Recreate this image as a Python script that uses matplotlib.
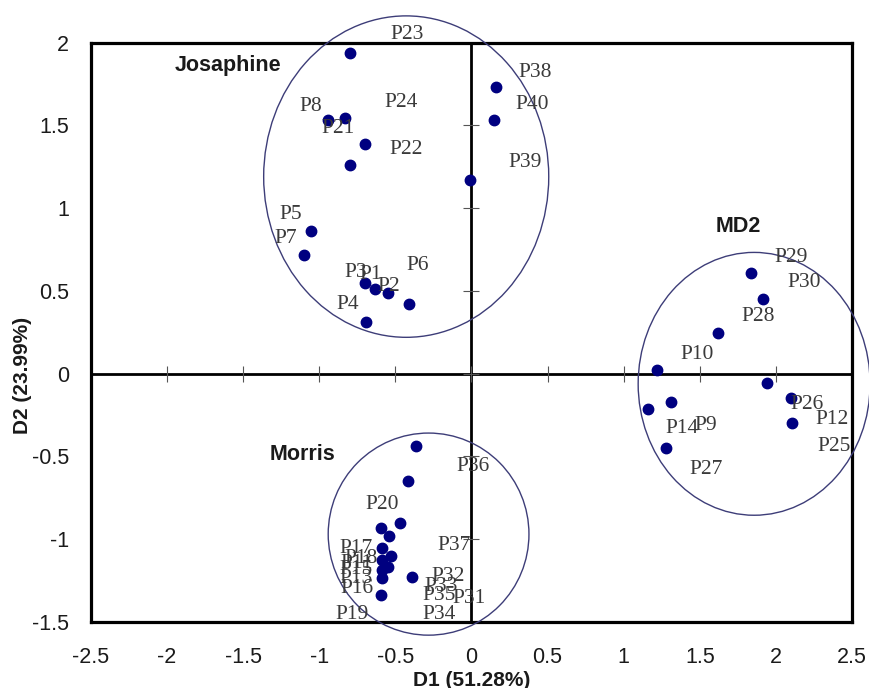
import matplotlib
matplotlib.use("Agg")
import matplotlib.pyplot as plt
from matplotlib.patches import Ellipse
import numpy as np

# ---------------- data ----------------
jos_x = [-0.80, -0.94, -0.83, -0.70, -0.80, 0.16, 0.145, -0.01, -1.055, -1.10, -0.70, -0.635, -0.55, -0.41, -0.695]
jos_y = [1.94, 1.53, 1.545, 1.385, 1.26, 1.73, 1.535, 1.17, 0.864, 0.715, 0.55, 0.51, 0.49, 0.42, 0.31]

md2_x = [1.834, 1.917, 1.618, 1.218, 1.944, 2.098, 2.109, 1.311, 1.159, 1.278]
md2_y = [0.609, 0.449, 0.244, 0.023, -0.057, -0.147, -0.30, -0.173, -0.213, -0.449]

mor_x = [-0.363, -0.414, -0.473, -0.596, -0.543, -0.585, -0.53, -0.585, -0.55, -0.585, -0.585, -0.394, -0.592]
mor_y = [-0.434, -0.65, -0.90, -0.934, -0.978, -1.055, -1.10, -1.125, -1.165, -1.185, -1.235, -1.229, -1.339]

label_names = ["P23", "P38", "P24", "P8", "P40", "P21", "P22", "P39", "P5", "P7", "P6", "P3", "P1", "P2", "P4",
               "P29", "P30", "P28", "P10", "P26", "P12", "P25", "P14", "P9", "P27",
               "P36", "P20", "P37", "P17", "P18", "P11", "P15", "P13", "P16", "P19", "P32", "P33", "P35", "P31", "P34"]
label_x = [-0.424, 0.420, -0.464, -1.057, 0.398, -0.879, -0.431, 0.354, -1.189, -1.222, -0.354, -0.761, -0.662, -0.541, -0.816,
           2.098, 2.185, 1.882, 1.482, 2.208, 2.366, 2.383, 1.383, 1.537, 1.544,
           0.013, -0.585, -0.112, -0.761, -0.728, -0.752, -0.761, -0.761, -0.750, -0.783, -0.156, -0.200, -0.211, -0.013, -0.211]
label_y = [2.052, 1.821, 1.637, 1.617, 1.627, 1.481, 1.355, 1.274, 0.964, 0.814, 0.653, 0.609, 0.599, 0.530, 0.419,
           0.705, 0.549, 0.345, 0.118, -0.187, -0.279, -0.437, -0.333, -0.313, -0.580,
           -0.563, -0.790, -1.035, -1.055, -1.115, -1.145, -1.185, -1.235, -1.295, -1.456, -1.225, -1.285, -1.339, -1.355, -1.456]

group_names = ["Josaphine", "MD2", "Morris"]
group_lx = [-1.60, 1.75, -1.11]
group_ly = [1.86, 0.89, -0.49]

ell_cx = [-0.429, 1.857, -0.282]
ell_cy = [1.191, -0.061, -0.969]
ell_w = [1.873, 1.524, 1.319]
ell_h = [1.942, 1.588, 1.221]

x_ticks = [-2.5, -2, -1.5, -1, -0.5, 0, 0.5, 1, 1.5, 2, 2.5]
y_ticks = [-1.5, -1, -0.5, 0, 0.5, 1, 1.5, 2]

# ---------------- figure ----------------
fig = plt.figure(figsize=(8.7, 6.88), dpi=100)
ax = fig.add_axes([91 / 870, 1 - 622 / 688, (852 - 91) / 870, (622 - 42.7) / 688])
ax.set_xlim(-2.5, 2.5)
ax.set_ylim(-1.5, 2)

for s in ax.spines.values():
    s.set_linewidth(2.3)
    s.set_color("black")

ax.set_xticks(x_ticks)
ax.set_yticks(y_ticks)
ax.set_xticklabels([f"{t:g}" for t in x_ticks])
ax.set_yticklabels([f"{t:g}" for t in y_ticks])
ax.tick_params(length=0, labelsize=15.5, colors="#1a1a1a")
ax.tick_params(axis="x", pad=18)
ax.tick_params(axis="y", pad=16)
for lab in ax.get_xticklabels() + ax.get_yticklabels():
    lab.set_family("Liberation Sans")

# zero axes with crossing ticks
ax.axhline(0, color="black", lw=2.0, zorder=2)
ax.axvline(0, color="black", lw=2.0, zorder=2)
ax.plot([0] * len(y_ticks), y_ticks, ls="none", marker="_", ms=11, mew=0.8, color="#555555", zorder=2, clip_on=False)
ax.plot(x_ticks[1:-1], [0] * (len(x_ticks) - 2), ls="none", marker="|", ms=11, mew=0.8, color="#555555", zorder=2)

# ellipses
for cx, cy, w, h in zip(ell_cx, ell_cy, ell_w, ell_h):
    ax.add_patch(Ellipse((cx, cy), w, h, fill=False, edgecolor="#3d3d78", lw=1.0, clip_on=False, zorder=3))

# points
for xs, ys in [(jos_x, jos_y), (md2_x, md2_y), (mor_x, mor_y)]:
    ax.plot(xs, ys, ls="none", marker="o", ms=7.5, color="#000080", mec="#000080", zorder=4, clip_on=False)

# point labels
for n, lx, ly in zip(label_names, label_x, label_y):
    ax.text(lx, ly, n, ha="center", va="center", fontsize=15.5, family="Liberation Serif",
            color="#3a3a3a", zorder=5, clip_on=False)

# group labels
for n, lx, ly in zip(group_names, group_lx, group_ly):
    ax.text(lx, ly, n, ha="center", va="center", fontsize=15.5, fontweight="bold",
            family="Liberation Sans", color="#1a1a1a", zorder=5)

ax.set_xlabel("D1 (51.28%)", fontsize=15, fontweight="bold", family="Liberation Sans", color="#1a1a1a")
ax.set_ylabel("D2 (23.99%)", fontsize=15, fontweight="bold", family="Liberation Sans", color="#1a1a1a")
ax.xaxis.set_label_coords(0.5, -0.084)
ax.yaxis.set_label_coords(-0.078, 0.426)

fig.savefig("out.png", dpi=100)
